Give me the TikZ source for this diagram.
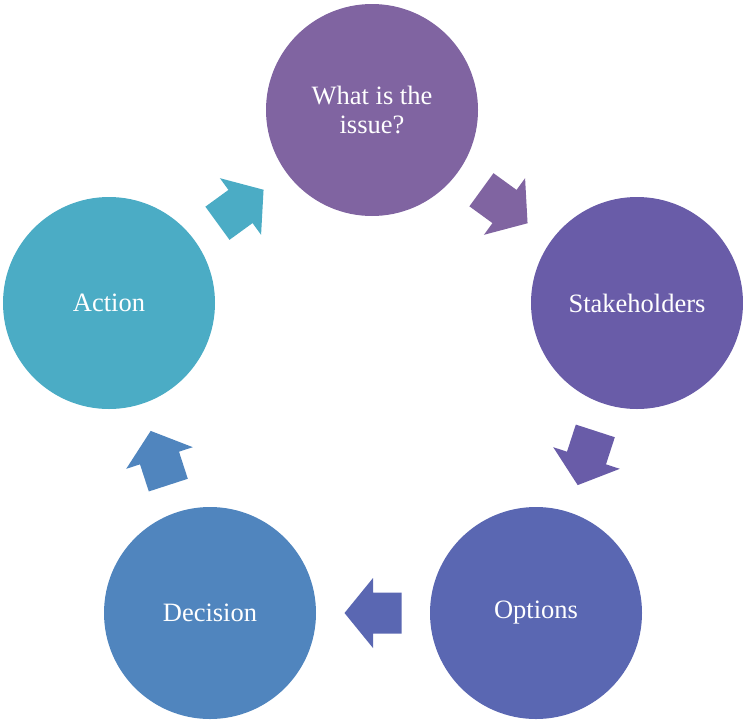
\documentclass[tikz,border=0pt]{standalone}
\usepackage{fontspec}
\setmainfont{Liberation Serif}
\usetikzlibrary{calc}
\definecolor{cA}{RGB}{128,100,161}
\definecolor{cB}{RGB}{105,92,168}
\definecolor{cC}{RGB}{90,103,178}
\definecolor{cD}{RGB}{80,133,190}
\definecolor{cE}{RGB}{75,172,197}
\tikzset{
  stage/.style={circle, minimum size=212pt, inner sep=0pt, text=white, align=center, font=\fontsize{26.5}{29}\selectfont},
  blockarrow/.pic={\fill[pic actions] (-28.5,-20.5) -- (0,-20.5) -- (0,-35) -- (28.5,0) -- (0,35) -- (0,20.5) -- (-28.5,20.5) -- cycle;}
}
\begin{document}
\begin{tikzpicture}[x=1pt,y=-1pt]
\useasboundingbox (0,0) rectangle (743,720);
\node[stage, fill=cA] (issue) at (372,110) {What is the\\issue?};
\node[stage, fill=cB] (stake) at (637,303) {Stakeholders};
\node[stage, fill=cC] (opt) at (536,613) {Options};
\node[stage, fill=cD] (dec) at (210,613) {Decision};
\node[stage, fill=cE] (act) at (109,303) {Action};
\coordinate (m1) at ($(issue)!0.5!(stake)$);
\coordinate (m2) at ($(stake)!0.5!(opt)$);
\coordinate (m3) at ($(opt)!0.5!(dec)$);
\coordinate (m4) at ($(dec)!0.5!(act)$);
\coordinate (m5) at ($(act)!0.5!(issue)$);
\path (m1) pic[fill=cA, rotate=-36] {blockarrow};
\path (m2) pic[fill=cB, rotate=-108] {blockarrow};
\path (m3) pic[fill=cC, rotate=180] {blockarrow};
\path (m4) pic[fill=cD, rotate=108] {blockarrow};
\path (m5) pic[fill=cE, rotate=36] {blockarrow};
\end{tikzpicture}
\end{document}
